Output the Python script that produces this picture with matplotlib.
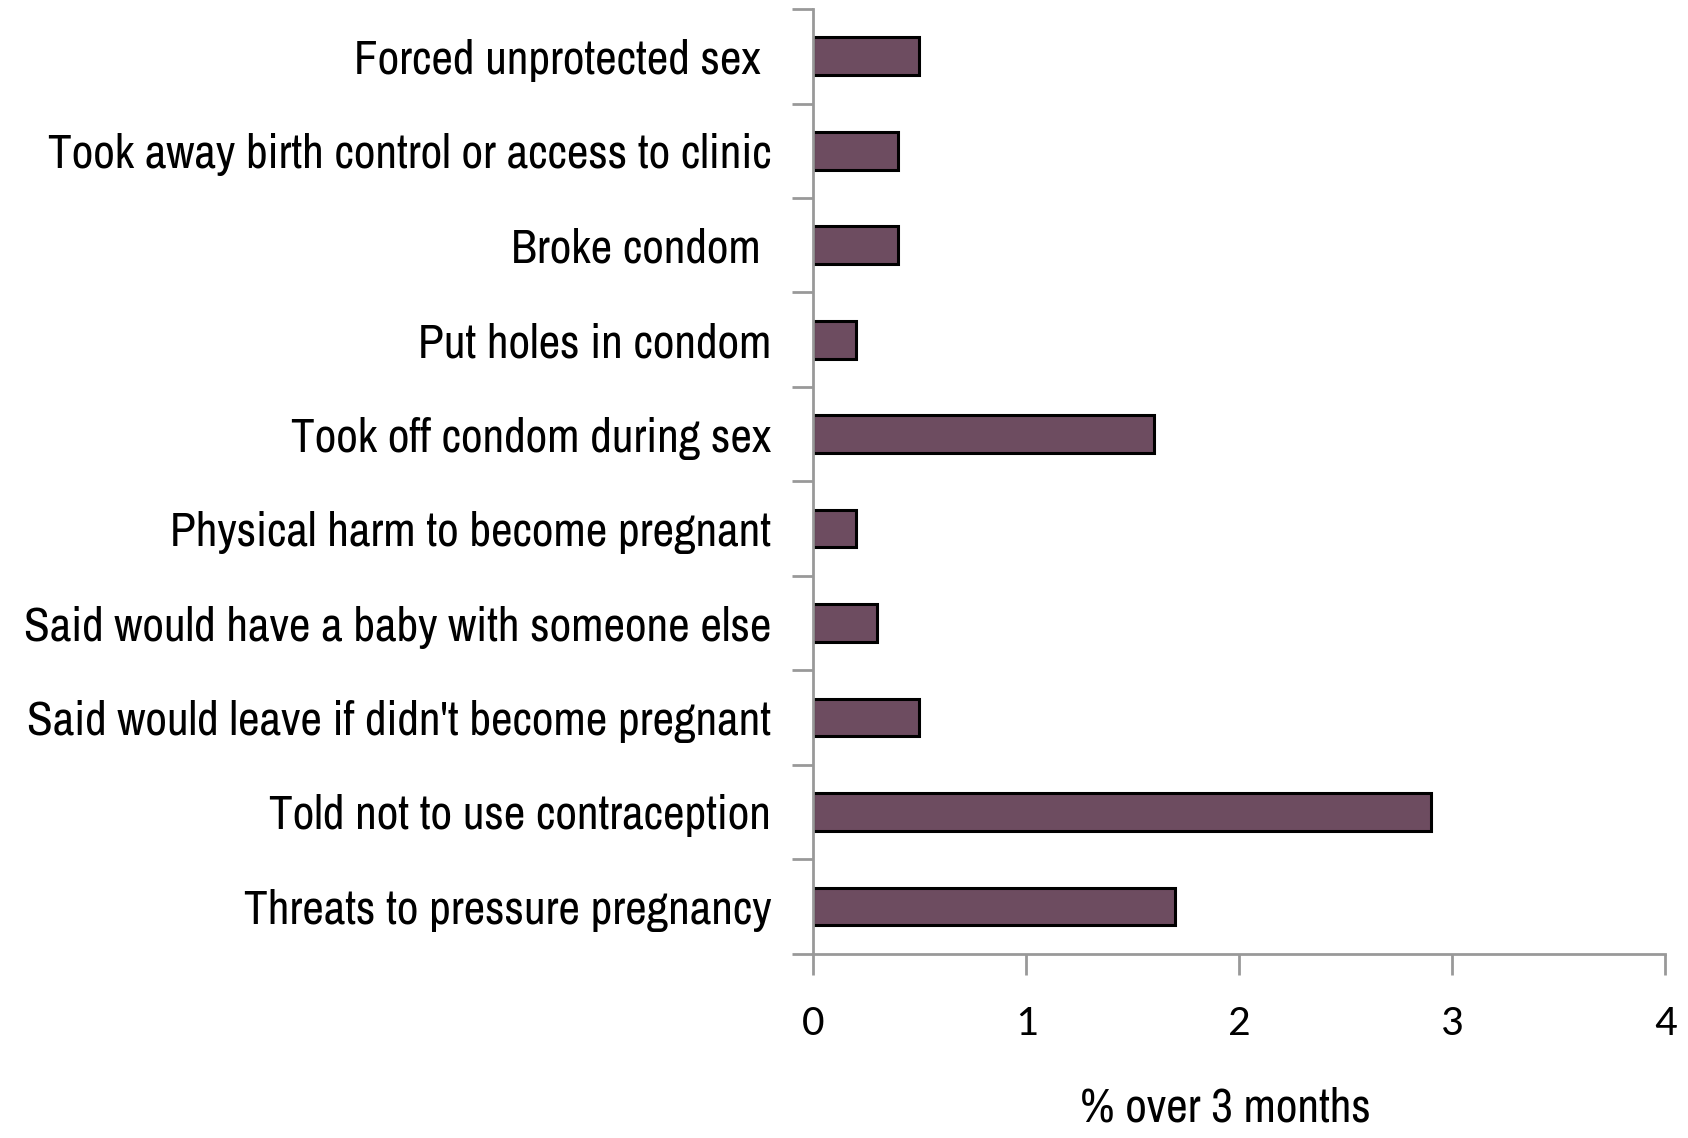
import matplotlib
matplotlib.use("Agg")
import matplotlib.pyplot as plt
from matplotlib import font_manager

categories = [
    "Threats to pressure pregnancy",
    "Told not to use contraception",
    "Said would leave if didn't become pregnant",
    "Said would have a baby with someone else",
    "Physical harm to become pregnant",
    "Took off condom during sex",
    "Put holes in condom",
    "Broke condom ",
    "Took away birth control or access to clinic",
    "Forced unprotected sex ",
]
values = [1.7, 2.9, 0.5, 0.3, 0.2, 1.6, 0.2, 0.4, 0.4, 0.5]
xticks = [0, 1, 2, 3, 4]
xlabel = "% over 3 months"

names = {f.name for f in font_manager.fontManager.ttflist}


def pick(cands, default="DejaVu Sans"):
    for c in cands:
        if c in names:
            return c
    return default


label_font = pick(["Liberation Sans Narrow", "Arial Narrow", "Archivo Narrow",
                   "PT Sans Narrow", "Pragati Narrow", "Roboto Condensed",
                   "Open Sans Condensed", "Fira Sans Condensed",
                   "IBM Plex Sans Condensed", "Sofia Sans Condensed"])
tick_font = pick(["Carlito", "Calibri", "Lato", "Open Sans"])

fig = plt.figure(figsize=(16.88, 11.38), dpi=100)
ax = fig.add_axes([0.4816, 0.162, 0.505, 0.830])

# fit label font size so the longest label is ~736 px wide
renderer = fig.canvas.get_renderer()
probe = fig.text(0, 0, categories[8], fontsize=30, family=label_font)
w = probe.get_window_extent(renderer).width
probe.remove()
label_size = min(34, 30 * 736.0 / w)

ypos = list(range(len(categories)))
ax.barh(ypos, values, height=0.4, color="#6D4C60", edgecolor="black", linewidth=2.2)

ax.set_xlim(0, 4)
ax.set_ylim(-0.5, len(categories) - 0.5)
ax.set_xticks(xticks)
ax.set_xticklabels([str(t) for t in xticks], fontsize=32, family=tick_font)
ax.set_yticks(ypos)
ax.set_yticklabels(categories, fontsize=label_size, family=label_font)
ax.tick_params(axis="y", length=0, pad=30)
ax.set_yticks([y - 0.5 for y in range(len(categories) + 1)], minor=True)
ax.tick_params(axis="y", which="minor", length=15, width=2, color="#999999", direction="out")
ax.tick_params(axis="x", length=15, width=2, color="#999999", direction="out", pad=22)

for s in ["top", "right"]:
    ax.spines[s].set_visible(False)
for s in ["left", "bottom"]:
    ax.spines[s].set_color("#999999")
    ax.spines[s].set_linewidth(2)

ax.set_xlabel(xlabel, fontsize=label_size, family=label_font)
ax.xaxis.set_label_coords(0.484, -0.163)
ax.xaxis.label.set_va("center")

fig.savefig("out.png", dpi=100)
